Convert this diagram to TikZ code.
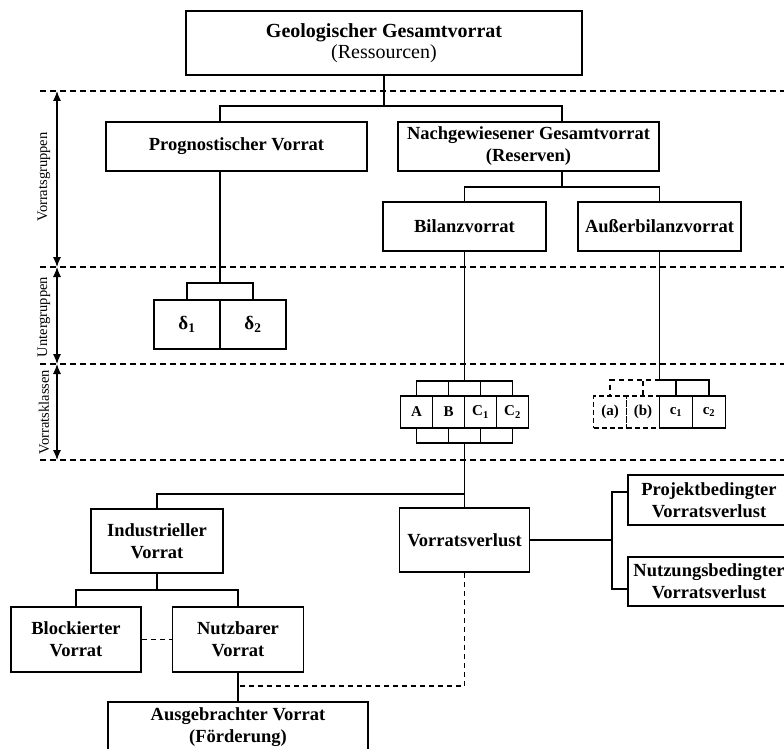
\documentclass[tikz,border=0pt]{standalone}
\usepackage{fontspec}
\setmainfont{Liberation Serif}
\usetikzlibrary{arrows.meta}
\begin{document}
\begin{tikzpicture}[x=1pt,y=-1pt,
  line width=1.6pt,
  box/.style={draw, rectangle, inner sep=0pt, align=center, font=\fontsize{18.5}{22}\selectfont\bfseries},
  cell/.style={draw, rectangle, inner sep=0pt, minimum height=32, font=\fontsize{15}{17}\selectfont\bfseries},
  dcell/.style={cell, dash pattern=on 5pt off 3pt},
  sepline/.style={dash pattern=on 6pt off 4pt, line width=1.4pt},
  dline/.style={dash pattern=on 5pt off 4pt},
  dimarrow/.style={{Latex[length=10pt,width=8pt]}-{Latex[length=10pt,width=8pt]}, line width=1.1pt},
  vlabel/.style={rotate=90, inner sep=0pt, font=\fontsize{14.5}{16}\selectfont}
]
\useasboundingbox (0,0) rectangle (784,749);
\clip (0,0) rectangle (784,749);

% separators and level arrows
\draw[sepline] (40,91) -- (784,91);
\draw[sepline] (40,267) -- (784,267);
\draw[sepline] (40,364) -- (784,364);
\draw[sepline] (40,460) -- (784,460);
\draw[dimarrow] (57,91) -- (57,267);
\draw[dimarrow] (57,267) -- (57,364);
\draw[dimarrow] (57,364) -- (57,460);
\node[vlabel] (lg) at (44,177) {Vorratsgruppen};
\node[vlabel] (lu) at (44,317) {Untergruppen};
\node[vlabel] (lk) at (44,412) {Vorratsklassen};

% boxes
\node[box, minimum width=396, minimum height=64, font=\fontsize{20}{21.5}\selectfont] (geo) at (384,43)
  {\bfseries Geologischer Gesamtvorrat\\{\mdseries(Ressourcen)}};
\node[box, minimum width=261, minimum height=49] (prog) at (236.5,146.5) {Prognostischer Vorrat};
\node[box, minimum width=261, minimum height=49] (nach) at (528.5,146.5) {Nachgewiesener Gesamtvorrat\\(Reserven)};
\node[box, minimum width=163, minimum height=49] (bil) at (464.5,226.5) {Bilanzvorrat};
\node[box, minimum width=163, minimum height=49] (aus) at (659.5,226.5) {Außerbilanzvorrat};

% delta cells
\node[cell, minimum width=66, minimum height=49, font=\fontsize{19}{21}\selectfont\bfseries] (d1) at (187,324.5) {δ\textsubscript{1}};
\node[cell, minimum width=66, minimum height=49, font=\fontsize{19}{21}\selectfont\bfseries] (d2) at (253,324.5) {δ\textsubscript{2}};

% A B C1 C2
\node[cell, minimum width=32] (cA) at (416.5,412) {A};
\node[cell, minimum width=32] (cB) at (448.5,412) {B};
\node[cell, minimum width=32] (cC1) at (480.5,412) {C\textsubscript{1}};
\node[cell, minimum width=32] (cC2) at (512.5,412) {C\textsubscript{2}};

% (a) (b) c1 c2
\node[dcell, minimum width=33] (ca) at (610,412) {(a)};
\node[dcell, minimum width=33] (cb) at (643,412) {(b)};
\node[cell, minimum width=33] (c1) at (676,412) {c\textsubscript{1}};
\node[cell, minimum width=33] (c2) at (709,412) {c\textsubscript{2}};

% lower part
\node[box, minimum width=132, minimum height=64] (ind) at (157,541) {Industrieller\\Vorrat};
\node[box, minimum width=130, minimum height=64] (vv) at (464.5,540) {Vorratsverlust};
\node[box, minimum width=130, minimum height=65] (block) at (76,639.5) {Blockierter\\Vorrat};
\node[box, minimum width=131, minimum height=65] (nutz) at (238,639.5) {Nutzbarer\\Vorrat};
\node[box, minimum width=260, minimum height=51] (ausg) at (238,727.5) {Ausgebrachter Vorrat\\(Förderung)};
\node[box, minimum width=162, minimum height=50] (proj) at (709,500) {Projektbedingter\\Vorratsverlust};
\node[box, minimum width=162, minimum height=49] (nutzv) at (709,581.5) {Nutzungsbedingter\\Vorratsverlust};

% junction coordinates
\coordinate (gJ) at (384,106);
\coordinate (dTop) at (220,283);
\coordinate (nX) at (562,187);
\coordinate (abcTop) at (464.5,381);
\coordinate (abcBot) at (464.5,443);
\coordinate (cTop) at (659.5,380);
\coordinate (bJ) at (464.5,494);
\coordinate (iJ) at (157,590);
\coordinate (fJ) at (238,686);
\coordinate (rT) at (612,492);
\coordinate (rB) at (612,589);

% connectors
\draw (geo.south) -- (gJ);
\draw (dTop |- prog.north) |- (gJ) -| (nX |- nach.north);
\draw (nach.south -| nX) -- (nX);
\draw (bil.north) |- (nX) -| (aus.north);
\draw (prog.south -| dTop) -- (dTop);
\draw (d1.north) |- (dTop) -| (d2.north);
\draw (bil.south) -- (abcTop);
\draw (cA.north) |- (abcTop) -| (cC2.north);
\draw (cB.north) -- (cB.north |- abcTop);
\draw (cC1.north) -- (cC1.north |- abcTop);
\draw (cA.south) |- (abcBot) -| (cC2.south);
\draw (cB.south) -- (cB.south |- abcBot);
\draw (cC1.south) -- (cC1.south |- abcBot);
\draw (aus.south) -- (cTop);
\draw (cTop) -| (c2.north);
\draw (c1.north) -- (c1.north |- cTop);
\draw[dline] (cTop) -| (ca.north);
\draw[dline] (cb.north) -- (cb.north |- cTop);
\draw (abcBot) -- (vv.north);
\draw (ind.north) |- (bJ);
\draw (ind.south) -- (iJ);
\draw (block.north) |- (iJ) -| (nutz.north);
\draw[dline] (block.east) -- (nutz.west);
\draw (nutz.south) -- (ausg.north);
\draw[dline] (vv.south) |- (fJ);
\draw (vv.east) -- (vv.east -| rT);
\draw (rT -| proj.west) -- (rT) -- (rB) -- (rB -| nutzv.west);
\end{tikzpicture}
\end{document}
